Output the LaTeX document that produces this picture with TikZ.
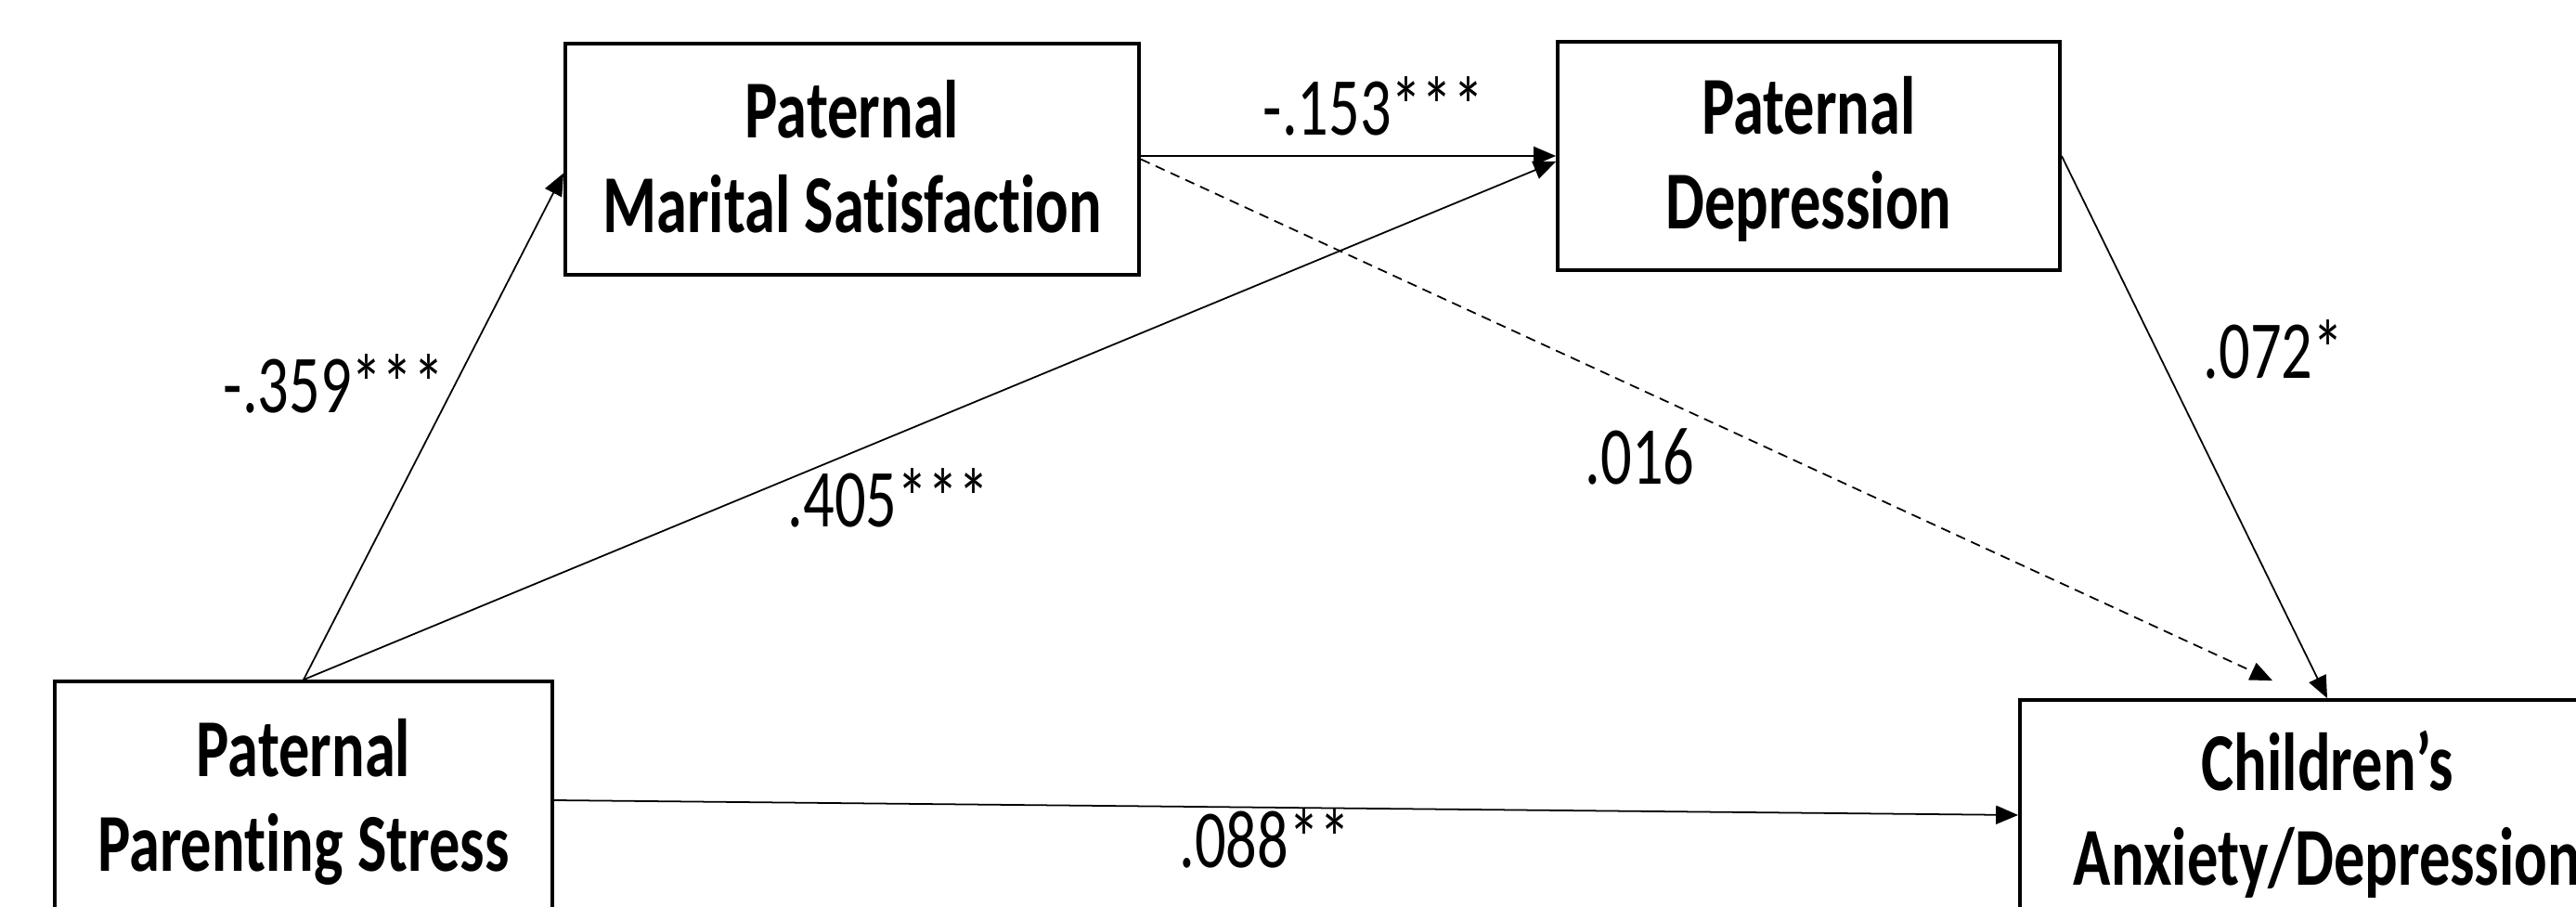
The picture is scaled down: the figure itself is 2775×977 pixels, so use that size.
\documentclass[tikz,border=0pt]{standalone}
\usepackage{fontspec}
\setmainfont{Carlito}[FakeStretch=0.75, Ligatures=NoCommon]
\usetikzlibrary{arrows.meta,calc}

\begin{document}
\begin{tikzpicture}[x=0.01cm, y=-0.01cm,
  box/.style={draw=black, line width=1pt, fill=white, inner sep=0pt},
  boxtext/.style={font=\fontsize{25.2}{29}\selectfont\bfseries, anchor=base, inner sep=0pt},
  coef/.style={font=\fontsize{25.2}{29}\selectfont, anchor=base west, inner sep=0pt},
  link/.style={line width=0.5pt, -{Triangle[length=6.8pt,width=5.7pt]}},
  nslink/.style={link, dash pattern=on 3pt off 2pt}]

  % canvas
  \path[use as bounding box, fill=white] (0,0) rectangle (2775,977);
  \clip (0,0) rectangle (2775,977);

  % variables
  \node[box, minimum width=5.36cm, minimum height=2.56cm] (pps) at (327,862) {};
  \node[box, minimum width=6.18cm, minimum height=2.49cm] (pms) at (918,171.5) {};
  \node[box, minimum width=5.41cm, minimum height=2.46cm] (pd)  at (1948.5,168) {};
  \node[box, minimum width=6.62cm, minimum height=2.48cm] (cad) at (2507,878) {};

  \node[boxtext] (ppsT) at (327,837)   {\begin{tabular}[t]{@{}c@{}}Paternal\\Parenting Stress\end{tabular}};
  \node[boxtext] (pmsT) at (918,149)   {\begin{tabular}[t]{@{}c@{}}Paternal\\Marital Satisfaction\end{tabular}};
  \node[boxtext] (pdT)  at (1948.5,145) {\begin{tabular}[t]{@{}c@{}}Paternal\\Depression\end{tabular}};
  \node[boxtext] (cadT) at (2507,852)  {\begin{tabular}[t]{@{}c@{}}Children’s\\Anxiety/Depression\end{tabular}};

  % paths
  \coordinate (dashend) at ($(cad.north)+(-59,-19)$);
  \draw[link] (pps.north) -- ($(pms.west)+(0,15)$);
  \draw[link] (pps.north) -- ($(pd.west)+(0,6)$);
  \draw[link] (pms.east |- pd.west) -- (pd.west);
  \draw[nslink] (pms.east) -- (dashend);
  \draw[link] (pd.east) -- (cad.north);
  \draw[link] (pps.east) -- (cad.west);

  % path coefficients
  \node[coef] (c1) at (240,445)  {-.359***};
  \node[coef] (c2) at (848,568)  {.405***};
  \node[coef] (c3) at (1360,146) {-.153***};
  \node[coef] (c4) at (1707,522) {.016};
  \node[coef] (c5) at (2373,408) {.072*};
  \node[coef, anchor=base east] (c6) at (1455,935) {.088**};
\end{tikzpicture}
\end{document}
